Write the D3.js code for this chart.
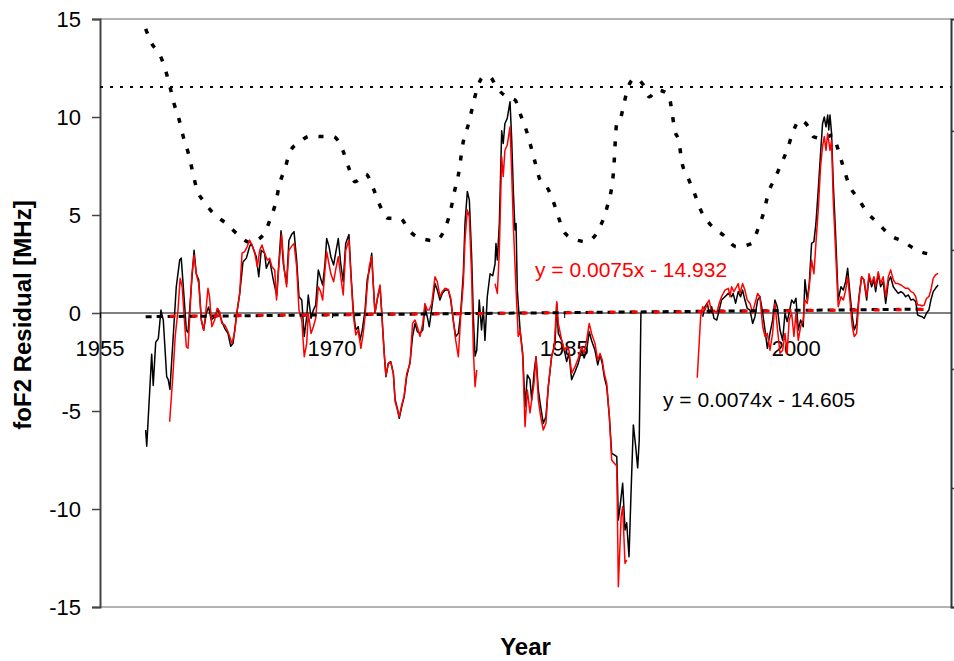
<!DOCTYPE html>
<html>
<head>
<meta charset="utf-8">
<script src="https://cdn.jsdelivr.net/npm/d3@7"></script>
<style>
  html, body { margin: 0; padding: 0; background: #fff; }
  svg { display: block; }
  text { font-family: "Liberation Sans", Arial, Helvetica, sans-serif; }
</style>
</head>
<body>
<svg id="chart" width="954" height="661"></svg>
<script>
// ---------------- data ----------------
const yTicks = [15, 10, 5, 0, -5, -10, -15];
const xTickYears = [1955, 1970, 1985, 2000];
const xTickLabels = ["1955", "1970", "1985", "2000"];
const rightTicks = [0, 50, 100, 150, 200];
const yTitle = "foF2 Residual [MHz]";
const xTitle = "Year";
const eqRed = "y = 0.0075x - 14.932";
const eqBlack = "y = 0.0074x - 14.605";
const refLevel = 11.53;

// black residual series [year, MHz]; null = missing
const blackSeries = [
[1957.95,-5.97],[1958.02,-6.8],[1958.34,-2.1],[1958.44,-3.7],[1958.60,-1.5],[1958.77,-1.3],[1958.94,0.15],
[1959.09,-0.36],[1959.31,-3.25],[1959.41,-3.4],[1959.52,-3.9],[1959.93,1.34],[1960.15,2.7],[1960.25,2.8],
[1960.43,0.83],[1960.58,-0.87],[1960.69,-1.0],[1960.90,1.34],[1961.08,3.2],[1961.22,2.0],[1961.38,1.7],
[1961.55,-0.36],[1961.70,-0.87],[1961.87,0],[1962.02,0.3],[1962.19,-0.36],[1962.41,-0.19],[1962.63,0.2],
[1962.84,-0.36],[1963.06,-0.78],[1963.27,-1.04],[1963.45,-1.7],[1963.60,-1.55],[1963.81,-0.19],[1964.03,1.0],
[1964.24,2.6],[1964.46,2.8],[1964.67,3.4],[1964.78,3.55],[1964.95,3.2],[1965.10,2.87],[1965.26,1.85],
[1965.42,3.2],[1965.64,3.05],[1965.75,2.28],[1965.97,2.7],[1966.18,1.77],[1966.42,0.9],[1966.70,4.2],
[1966.85,2.5],[1967.06,1.5],[1967.21,3.7],[1967.38,4.0],[1967.54,4.15],[1967.71,2.7],[1967.86,0.83],
[1968.04,0.66],[1968.20,-1.2],[1968.36,-0.19],[1968.46,0.92],[1968.64,-0.27],[1968.79,0.15],[1968.94,0.4],
[1969.11,2.2],[1969.26,1.77],[1969.39,1.43],[1969.54,2.5],[1969.65,3.8],[1969.80,3.4],[1969.92,2.87],
[1970.10,2.45],[1970.23,3.05],[1970.40,3.8],[1970.56,2.5],[1970.72,1.6],[1970.88,3.55],[1971.09,4.0],
[1971.22,2.0],[1971.37,0.15],[1971.53,-0.87],[1971.69,-0.7],[1971.80,-1.4],[1971.95,-0.87],[1972.13,0.15],
[1972.27,1.7],[1972.45,2.36],[1972.56,3.05],[1972.66,1.5],[1972.77,0],[1972.95,0.83],[1973.10,1.34],
[1973.21,0],[1973.37,-2.06],[1973.48,-3.25],[1973.63,-2.57],[1973.79,-2.48],[1973.96,-3.08],[1974.07,-4.4],
[1974.24,-4.95],[1974.34,-5.37],[1974.50,-4.78],[1974.66,-4.27],[1974.82,-3.25],[1975.04,-2.5],[1975.20,-1.2],
[1975.36,-0.53],[1975.51,-0.95],[1975.68,-1.04],[1975.86,-0.87],[1976.00,0.32],[1976.15,-0.19],[1976.28,-0.7],
[1976.44,0.24],[1976.65,1.5],[1976.80,1.17],[1976.97,0.66],[1977.12,1.0],[1977.30,1.17],[1977.51,1.17],
[1977.67,0.66],[1977.83,-0.36],[1977.99,-1.2],[1978.16,-1.04],[1978.31,0],[1978.48,2.0],[1978.59,4.57],
[1978.74,6.2],[1978.87,5.77],[1979.02,2.87],[1979.13,-0.19],[1979.24,-2.2],[1979.35,-1.9],[1979.51,0.66],
[1979.66,-0.87],[1979.77,0.32],[1979.88,-1.4],[1980.03,0.83],[1980.21,2.0],[1980.38,1.9],[1980.53,2.5],
[1980.59,3.55],[1980.68,2.7],[1980.81,4.57],[1980.96,9.3],[1981.06,8.65],[1981.17,9.67],[1981.32,9.93],
[1981.50,10.78],[1981.61,8.8],[1981.71,6.3],[1981.82,4.23],[1981.89,4.57],[1981.97,1.17],[1982.15,-0.87],
[1982.32,-2.06],[1982.47,-4.78],[1982.62,-3.16],[1982.79,-3.4],[1982.90,-4.44],[1983.05,-3.08],[1983.18,-2.23],
[1983.33,-3.93],[1983.48,-4.78],[1983.65,-5.63],[1983.82,-5.29],[1983.97,-3.8],[1984.19,-2.2],[1984.41,-1.55],
[1984.52,0.49],[1984.62,-1.04],[1984.84,-1.4],[1985.05,-2.06],[1985.16,-2.48],[1985.31,-2.06],[1985.48,-3.4],
[1985.70,-3.0],[1985.91,-2.57],[1986.13,-1.9],[1986.29,-2.3],[1986.45,-1.9],[1986.62,-0.95],[1986.77,-1.4],
[1986.99,-1.9],[1987.17,-2.65],[1987.32,-2.14],[1987.46,-2.57],[1987.59,-3.25],[1987.75,-3.76],[1987.92,-5.29],
[1988.07,-7.16],[1988.24,-7.24],[1988.40,-7.33],[1988.50,-10.56],[1988.61,-9.88],[1988.78,-8.69],[1988.93,-11.07],
[1989.04,-10.7],[1989.19,-12.43],[1989.32,-9.2],[1989.47,-5.71],[1989.62,-6.8],[1989.75,-7.9],[1989.85,-6.48],
[1989.96,0],[1991.5,null],
[1993.95,-0.19],[1994.10,0.32],[1994.25,0.5],[1994.37,0],[1994.53,0.32],[1994.68,-0.27],[1994.86,-0.36],
[1995.02,0.15],[1995.17,0.66],[1995.39,0.83],[1995.61,1.0],[1995.82,0.83],[1995.92,1.0],[1996.08,0.5],
[1996.25,1.09],[1996.40,0.83],[1996.53,1.17],[1996.68,0.66],[1996.83,0.24],[1997.01,0.15],[1997.18,-0.53],
[1997.33,-0.19],[1997.50,0.66],[1997.65,0.83],[1997.83,0],[1997.98,-0.87],[1998.13,-1.8],[1998.30,-1.04],
[1998.47,-0.36],[1998.62,0.66],[1998.77,0.32],[1998.95,-0.87],[1999.12,-1.4],[1999.27,0],[1999.41,-0.44],
[1999.54,0],[1999.70,0.66],[1999.85,0.5],[1999.98,0.75],[2000.13,-0.87],[2000.28,-0.36],[2000.45,-0.7],
[2000.56,1.7],[2000.71,0.66],[2000.84,1.5],[2000.99,3.55],[2001.14,3.64],[2001.27,4.57],[2001.42,6.28],
[2001.57,8.15],[2001.70,9.67],[2001.81,10.0],[2001.92,9.5],[2002.03,10.1],[2002.10,9.34],[2002.18,10.1],
[2002.28,9.17],[2002.39,6.6],[2002.54,4.06],[2002.71,0.66],[2002.89,1.34],[2003.04,1.17],[2003.19,1.6],
[2003.32,2.28],[2003.47,1.0],[2003.62,-0.19],[2003.75,-0.87],[2003.90,-0.53],[2004.05,0.83],[2004.22,1.85],
[2004.37,1.7],[2004.55,0.66],[2004.70,1.85],[2004.87,1.34],[2005.02,1.7],[2005.13,1.09],[2005.30,2.0],
[2005.45,1.34],[2005.62,1.6],[2005.78,0.49],[2005.95,1.6],[2006.10,1.85],[2006.27,1.34],[2006.42,1.17],
[2006.59,1.0],[2006.76,1.09],[2006.92,1.0],[2007.07,0.83],[2007.24,0.92],[2007.41,0.66],[2007.56,0.7],
[2007.72,0.58],[2007.84,-0.1],[2007.99,-0.15],[2008.14,-0.19],[2008.27,-0.27],[2008.42,0],[2008.57,0.15],
[2008.70,0.66],[2008.85,1.09],[2009.00,1.26],[2009.17,1.43]
];

// red residual series [year, MHz]; null = missing
const redSeries = [
[1959.50,-5.55],[1959.72,-3.08],[1959.86,-1.2],[1960.04,0.15],[1960.18,1.77],[1960.31,1.34],[1960.47,-0.53],
[1960.58,-1.72],[1960.69,-1.8],[1960.79,-0.36],[1960.94,2.0],[1961.08,2.96],[1961.22,2.0],[1961.38,1.5],
[1961.55,-0.36],[1961.70,-0.87],[1961.83,0],[1961.98,1.26],[1962.08,0.83],[1962.23,-0.7],[1962.41,-0.36],
[1962.57,0.24],[1962.73,0.07],[1962.88,-0.53],[1963.06,-0.61],[1963.23,-0.87],[1963.38,-1.2],[1963.53,-1.55],
[1963.71,-0.95],[1963.87,0.15],[1964.03,1.0],[1964.18,3.05],[1964.35,3.13],[1964.52,3.4],[1964.67,3.72],
[1964.82,3.47],[1965.00,3.05],[1965.17,2.36],[1965.32,3.2],[1965.47,3.47],[1965.64,3.05],[1965.81,2.7],
[1965.96,2.79],[1966.11,2.36],[1966.29,2.2],[1966.41,0.66],[1966.57,2.5],[1966.74,4.0],[1966.91,2.2],
[1967.06,1.34],[1967.21,3.2],[1967.38,3.4],[1967.54,3.55],[1967.71,2.36],[1967.86,0.15],[1968.04,-0.36],
[1968.20,-2.23],[1968.36,-1.55],[1968.46,0],[1968.64,-1.04],[1968.79,-0.7],[1968.94,-0.27],[1969.11,1.34],
[1969.26,1.09],[1969.39,0.66],[1969.54,2.2],[1969.65,3.13],[1969.80,2.5],[1969.92,2.0],[1970.10,1.6],
[1970.23,2.2],[1970.40,2.87],[1970.56,1.85],[1970.72,0.92],[1970.88,3.2],[1971.09,3.72],[1971.22,1.85],
[1971.37,-0.1],[1971.53,-1.12],[1971.69,-0.87],[1971.86,-1.8],[1972.01,-1.04],[1972.13,-0.19],[1972.27,1.34],
[1972.40,2.36],[1972.56,2.87],[1972.66,1.5],[1972.77,0],[1972.95,0.83],[1973.10,1.43],[1973.21,0],
[1973.37,-2.1],[1973.48,-3.2],[1973.63,-2.6],[1973.79,-2.5],[1973.96,-3.1],[1974.07,-4.5],[1974.24,-5.0],
[1974.34,-5.3],[1974.50,-4.7],[1974.66,-4.2],[1974.82,-3.1],[1975.04,-2.57],[1975.20,-0.53],[1975.36,-0.36],
[1975.51,-0.7],[1975.68,-1.2],[1975.86,-0.53],[1976.00,0.49],[1976.15,0.15],[1976.28,0.15],[1976.44,0.49],
[1976.65,1.85],[1976.80,1.6],[1976.97,0.83],[1977.12,1.09],[1977.30,1.26],[1977.51,1.2],[1977.67,0.75],
[1977.83,-0.36],[1977.99,-1.4],[1978.16,-2.23],[1978.31,-0.19],[1978.48,1.5],[1978.59,3.72],[1978.74,5.26],
[1978.87,4.91],[1979.02,1.85],[1979.13,-1.9],[1979.24,-3.76],[1979.35,-2.9],[1979.9,null],
[1980.53,1.5],[1980.68,1.0],[1980.81,3.2],[1980.96,7.98],[1981.06,6.96],[1981.17,8.3],[1981.32,8.57],
[1981.50,9.5],[1981.61,7.13],[1981.71,4.57],[1981.82,2.5],[1981.93,0.49],[1982.03,-1.2],[1982.15,-0.87],
[1982.32,-2.23],[1982.47,-5.8],[1982.62,-3.93],[1982.79,-5.1],[1982.90,-4.44],[1983.05,-3.6],[1983.18,-2.23],
[1983.33,-4.44],[1983.48,-5.29],[1983.65,-5.97],[1983.82,-5.63],[1983.97,-3.76],[1984.19,-2.2],[1984.36,-1.72],
[1984.52,0.58],[1984.62,-0.53],[1984.84,-1.4],[1985.01,-1.9],[1985.16,-1.72],[1985.31,-1.9],[1985.48,-3.08],
[1985.70,-2.74],[1985.91,-2.31],[1986.13,-1.72],[1986.29,-2.06],[1986.45,-1.4],[1986.62,-0.53],[1986.77,-1.04],
[1986.99,-1.55],[1987.17,-2.4],[1987.32,-2.06],[1987.46,-2.4],[1987.59,-3.08],[1987.75,-3.59],[1987.92,-5.29],
[1988.07,-7.5],[1988.24,-7.67],[1988.40,-7.8],[1988.50,-13.96],[1988.68,-10.4],[1988.78,-9.88],[1988.93,-12.77],
[1989.04,-12.6],[1991.0,null],
[1993.60,-3.3],[1993.82,-0.19],[1993.95,0.32],[1994.10,0.15],[1994.25,0.5],[1994.37,0.66],[1994.53,0],
[1994.68,0.15],[1994.86,0],[1995.02,0.5],[1995.17,0.83],[1995.39,1.17],[1995.61,1.26],[1995.72,0.83],
[1995.82,1.34],[1995.97,1.09],[1996.14,1.34],[1996.25,1.5],[1996.36,1.0],[1996.53,1.5],[1996.68,1.17],
[1996.83,0.66],[1997.01,0.49],[1997.18,0],[1997.33,0.49],[1997.50,1.0],[1997.65,0.83],[1997.83,-0.7],
[1997.98,-1.2],[1998.13,-1.04],[1998.30,-1.9],[1998.47,-1.04],[1998.62,0.49],[1998.77,-0.7],[1998.95,-2.06],
[1999.12,-1.9],[1999.27,-1.04],[1999.41,-2.06],[1999.54,-0.36],[1999.70,0],[1999.85,-1.2],[1999.98,0],
[2000.13,-1.4],[2000.28,-0.7],[2000.45,-0.36],[2000.56,0.66],[2000.71,0.49],[2000.84,1.34],[2000.99,2.7],
[2001.14,2.0],[2001.27,3.55],[2001.42,5.26],[2001.57,7.47],[2001.70,8.5],[2001.81,9.0],[2001.92,8.3],
[2002.03,9.17],[2002.18,8.3],[2002.28,8.8],[2002.39,5.77],[2002.54,3.2],[2002.71,0.32],[2002.89,0.83],
[2003.04,0.66],[2003.19,1.17],[2003.32,1.85],[2003.47,0.66],[2003.62,-0.7],[2003.75,-1.2],[2003.90,-1.04],
[2004.05,0.66],[2004.22,1.85],[2004.37,1.7],[2004.55,0.83],[2004.70,2.0],[2004.87,1.5],[2005.02,1.85],
[2005.13,1.34],[2005.30,2.1],[2005.45,1.5],[2005.62,1.85],[2005.78,0.83],[2005.95,1.85],[2006.10,2.2],
[2006.27,1.7],[2006.42,1.5],[2006.59,1.5],[2006.76,1.43],[2006.92,1.34],[2007.07,1.26],[2007.24,1.26],
[2007.41,1.09],[2007.56,1.04],[2007.72,0.83],[2007.84,0.41],[2007.99,0.41],[2008.14,0.36],[2008.27,0.41],
[2008.42,0.75],[2008.57,0.83],[2008.70,1.17],[2008.85,1.77],[2009.00,1.94],[2009.17,2.02]
];

// solar activity curve (dotted), in left-axis units
const solarSeries = [
[1957.95,14.5],[1958.34,13.76],[1958.88,13.16],[1959.20,12.48],[1959.52,11.55],[1959.78,10.7],[1960.12,9.85],
[1960.38,9.0],[1960.71,8.15],[1960.99,7.2],[1961.24,6.36],[1961.72,5.68],[1962.32,5.09],[1963.19,4.54],
[1963.94,3.98],[1964.69,3.6],[1965.55,3.98],[1965.98,4.74],[1966.37,5.68],[1966.59,6.53],[1966.96,7.38],
[1967.28,8.23],[1967.93,8.74],[1968.57,9.03],[1969.33,9.0],[1970.08,9.0],[1970.68,8.32],[1971.05,7.47],
[1971.48,6.7],[1972.17,7.09],[1972.66,6.36],[1973.05,5.56],[1973.63,4.83],[1974.39,4.83],[1975.04,4.15],
[1975.86,3.78],[1976.65,3.69],[1977.34,4.4],[1977.67,5.26],[1977.88,6.1],[1978.16,7.04],[1978.48,8.74],
[1978.80,9.6],[1979.08,10.53],[1979.38,11.46],[1979.73,12.02],[1980.16,12.06],[1980.68,11.46],[1981.28,11.03],
[1981.82,10.87],[1982.19,10.1],[1982.58,9.25],[1983.11,7.72],[1983.44,6.79],[1983.87,6.45],[1984.26,5.77],
[1984.62,4.91],[1985.05,4.07],[1985.81,3.72],[1986.45,3.64],[1986.84,3.81],[1987.32,4.4],[1987.75,5.34],
[1988.18,7.13],[1988.40,9.67],[1988.61,9.85],[1988.87,10.7],[1989.14,11.55],[1989.58,11.97],[1990.12,11.63],
[1990.51,11.03],[1990.98,11.38],[1991.73,11.16],[1991.95,10.36],[1992.12,9.42],[1992.44,8.65],[1992.60,7.72],
[1993.02,6.87],[1993.46,6.02],[1993.82,5.26],[1994.47,4.49],[1995.28,3.98],[1996.14,3.38],[1997.11,3.55],
[1997.54,4.32],[1997.91,5.17],[1998.19,6.1],[1998.62,6.87],[1999.09,7.72],[1999.41,8.32],[1999.76,9.17],
[2000.24,9.85],[2000.78,9.5],[2001.10,9.0],[2001.74,8.9],[2002.35,9.08],[2002.71,8.32],[2003.03,7.47],
[2003.42,6.53],[2004.00,5.85],[2004.55,5.17],[2005.30,4.57],[2006.05,3.98],[2006.91,3.64],[2007.78,3.21],
[2008.85,2.96]
];

// linear trend lines (endpoints)
const blackTrend = [[1957.95,-0.19],[2008.40,0.2]];
const redTrend = [[1959.50,-0.16],[2008.90,0.18]];

// ---------------- chart ----------------
const svg = d3.select("#chart");
const L = 100, R = 951, T = 19, B = 607;
const x = d3.scaleLinear().domain([1955, 2010]).range([L, R]);
const y = d3.scaleLinear().domain([-15, 15]).range([B, T]);
const y2 = d3.scaleLinear().domain([0, 247]).range([B, T]);

// frame: top and bottom grey
svg.append("line").attr("x1", L).attr("x2", R).attr("y1", T).attr("y2", T)
  .attr("stroke", "#9a9a9a").attr("stroke-width", 1.5);
svg.append("line").attr("x1", L).attr("x2", R).attr("y1", B).attr("y2", B)
  .attr("stroke", "#9a9a9a").attr("stroke-width", 1.5);

// left axis
const yAxis = d3.axisLeft(y).tickValues(yTicks).tickSize(8).tickPadding(11).tickFormat(d => String(d));
const gy = svg.append("g").attr("transform", `translate(${L},0)`).call(yAxis);
gy.select(".domain").attr("stroke", "#444").attr("stroke-width", 2);
gy.selectAll(".tick line").attr("stroke", "#444").attr("stroke-width", 1.5);
gy.selectAll(".tick text").attr("font-size", 22).attr("fill", "#000")
  .attr("font-family", "'Liberation Sans', Arial, Helvetica, sans-serif");

// right axis (no labels)
const yAxis2 = d3.axisRight(y2).tickValues(rightTicks).tickSize(4).tickFormat("");
const gy2 = svg.append("g").attr("transform", `translate(${R},0)`).call(yAxis2);
gy2.select(".domain").attr("stroke", "#333").attr("stroke-width", 2);
gy2.selectAll(".tick line").attr("stroke", "#333").attr("stroke-width", 1.5);

// reference dotted horizontal line
svg.append("line").attr("x1", L).attr("x2", R).attr("y1", y(refLevel)).attr("y2", y(refLevel))
  .attr("stroke", "#000").attr("stroke-width", 2).attr("stroke-dasharray", "3,7");

// zero line with x axis ticks
svg.append("line").attr("x1", L).attr("x2", R).attr("y1", y(0)).attr("y2", y(0))
  .attr("stroke", "#000").attr("stroke-width", 1);
const xAxis = d3.axisBottom(x).tickValues(xTickYears).tickSize(5).tickFormat("");
const gx = svg.append("g").attr("transform", `translate(0,${y(0)})`).call(xAxis);
gx.select(".domain").remove();
gx.selectAll(".tick line").attr("stroke", "#000");
svg.append("g").selectAll("text").data(xTickYears).join("text")
  .attr("x", d => x(d)).attr("y", y(0) + 43)
  .attr("text-anchor", "middle").attr("font-size", 22).attr("fill", "#000")
  .text((d, i) => xTickLabels[i]);

const line = d3.line().defined(d => d[1] !== null).x(d => x(d[0])).y(d => y(d[1]));

// solar curve
svg.append("path").datum(solarSeries).attr("d", line.curve(d3.curveMonotoneX))
  .attr("fill", "none").attr("stroke", "#000").attr("stroke-width", 3.5)
  .attr("stroke-dasharray", "5,11");
line.curve(d3.curveLinear);

// data series
svg.append("path").datum(blackSeries).attr("d", line)
  .attr("fill", "none").attr("stroke", "#000").attr("stroke-width", 1.5).attr("stroke-linejoin", "round");
svg.append("path").datum(redSeries).attr("d", line)
  .attr("fill", "none").attr("stroke", "#ff0000").attr("stroke-width", 1.5).attr("stroke-linejoin", "round");

// trend lines
svg.append("path").datum(blackTrend).attr("d", line)
  .attr("fill", "none").attr("stroke", "#000").attr("stroke-width", 3).attr("stroke-dasharray", "6,5");
svg.append("path").datum(redTrend).attr("d", line)
  .attr("fill", "none").attr("stroke", "#ff0000").attr("stroke-width", 3).attr("stroke-dasharray", "6,16");

// equation labels
svg.append("text").attr("x", 535).attr("y", 277).attr("font-size", 21).attr("fill", "#ff0000").text(eqRed);
svg.append("text").attr("x", 663).attr("y", 407).attr("font-size", 21).attr("fill", "#000").text(eqBlack);

// axis titles
svg.append("text").attr("transform", `translate(31,${y(0) + 2}) rotate(-90)`)
  .attr("text-anchor", "middle").attr("font-size", 24).attr("font-weight", "bold").text(yTitle);
svg.append("text").attr("x", (L + R) / 2).attr("y", 655)
  .attr("text-anchor", "middle").attr("font-size", 24).attr("font-weight", "bold").text(xTitle);
</script>
</body>
</html>
